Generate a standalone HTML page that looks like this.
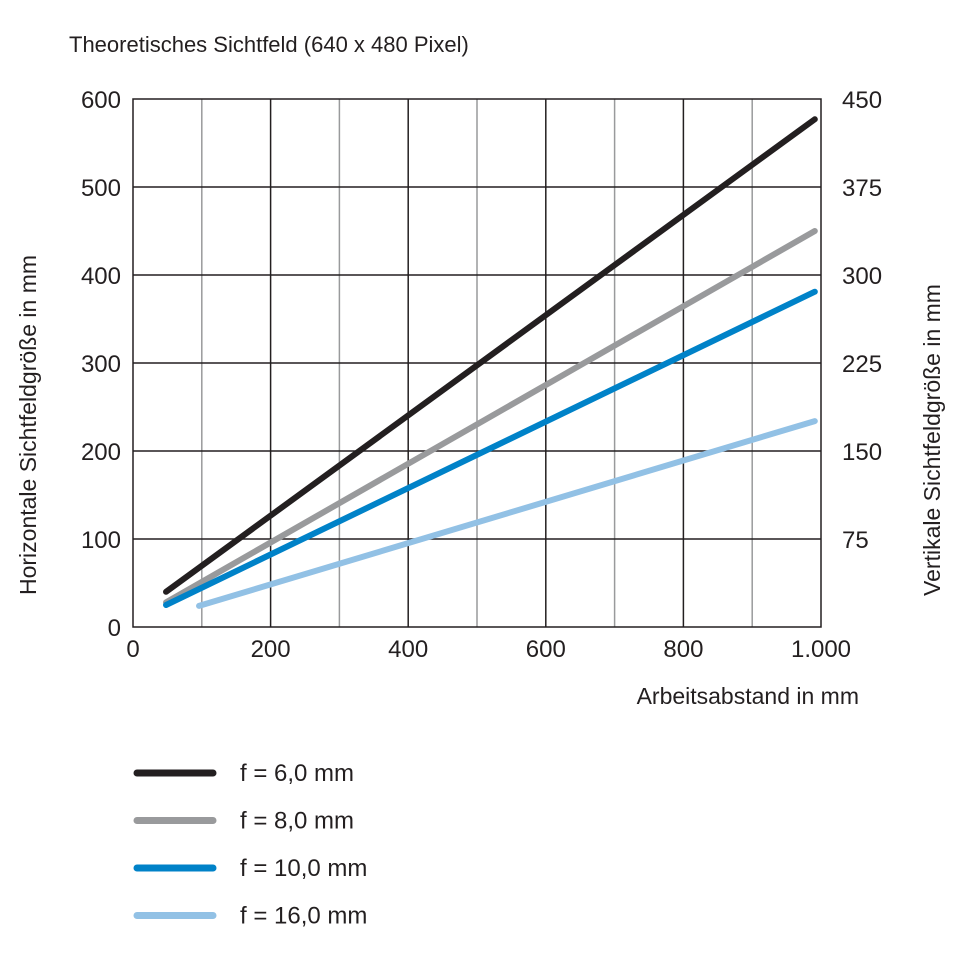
<!DOCTYPE html>
<html><head><meta charset="utf-8"><style>
body{margin:0;background:#fff}
svg text{font-family:"Liberation Sans",sans-serif;fill:#231f20}
</style></head><body>
<svg width="960" height="960" viewBox="0 0 960 960" xmlns="http://www.w3.org/2000/svg">
<rect width="960" height="960" fill="#fff"/>
<text x="69" y="52" font-size="22">Theoretisches Sichtfeld (640 x 480 Pixel)</text>
<g id="grid"></g>
<g id="ticks"></g>
<g id="series"></g>
<text x="859" y="704" font-size="23" text-anchor="end">Arbeitsabstand in mm</text>
<text transform="translate(36,425) rotate(-90)" font-size="23" text-anchor="middle">Horizontale Sichtfeldgröße in mm</text>
<text transform="translate(940,440) rotate(-90)" font-size="23" text-anchor="middle">Vertikale Sichtfeldgröße in mm</text>
<g id="legend"></g>
</svg>
<script>
const seriesNames=["f = 6,0 mm","f = 8,0 mm","f = 10,0 mm","f = 16,0 mm"];
const seriesColors=["#231f20","#999a9c","#0082c8","#92c1e5"];
const seriesX=[[48,991],[48,991],[48,991],[96,991]];
const seriesY=[[40,577],[28,450],[25,381],[24,234]];
const xTicks=[0,200,400,600,800,1000];
const xTickLabels=["0","200","400","600","800","1.000"];
const yTicks=[0,100,200,300,400,500,600];
const yRightLabels=["","75","150","225","300","375","450"];
const X0=133,X1=821,Y0=627,Y1=99;
const sx=v=>X0+(X1-X0)*v/1000;
const sy=v=>Y0-(Y0-Y1)*v/600;
const NS="http://www.w3.org/2000/svg";
function mk(t,a,p){const e=document.createElementNS(NS,t);for(const k in a)e.setAttribute(k,a[k]);p.appendChild(e);return e;}
const grid=document.getElementById('grid');
for(let v=100;v<1000;v+=100){
 const l=mk('line',{x1:sx(v),x2:sx(v),y1:Y1,y2:Y0,stroke:(v%200?'#999a9c':'#231f20'),'stroke-width':1.5},grid);
 
 
}
for(let v=100;v<600;v+=100){
 const l=mk('line',{x1:X0,x2:X1,y1:sy(v),y2:sy(v),stroke:'#231f20','stroke-width':1.5},grid);
 
 
}
const fr=mk('rect',{x:X0,y:Y1,width:X1-X0,height:Y0-Y1,fill:'none',stroke:'#231f20','stroke-width':1.5},grid);


const ticks=document.getElementById('ticks');
xTicks.forEach((v,i)=>{
 const t=mk('text',{x:sx(v),y:657,'font-size':24,'text-anchor':'middle'},ticks);t.textContent=xTickLabels[i];
 
 
});
yTicks.forEach((v,i)=>{
 const t=mk('text',{x:121,y:sy(v)+9,'font-size':24,'text-anchor':'end'},ticks);t.textContent=String(v);
 
 
 if(yRightLabels[i]){
  const r=mk('text',{x:842,y:sy(v)+9,'font-size':24},ticks);r.textContent=yRightLabels[i];
  
  
 }
});
const ser=document.getElementById('series');
seriesNames.forEach((n,i)=>{
 const pts=seriesX[i].map((x,j)=>sx(x)+','+sy(seriesY[i][j])).join(' ');
 const p=mk('polyline',{points:pts,fill:'none',stroke:seriesColors[i],'stroke-width':6,'stroke-linecap':'round'},ser);
 
 
});
const lg=document.getElementById('legend');
seriesNames.forEach((n,i)=>{
 const y=773+i*47.5;
 const l=mk('line',{x1:137,x2:213,y1:y,y2:y,stroke:seriesColors[i],'stroke-width':7,'stroke-linecap':'round'},lg);
 
 
 const t=mk('text',{x:240,y:y+8,'font-size':24},lg);t.textContent=n;
 
 
});
</script>
</body></html>
